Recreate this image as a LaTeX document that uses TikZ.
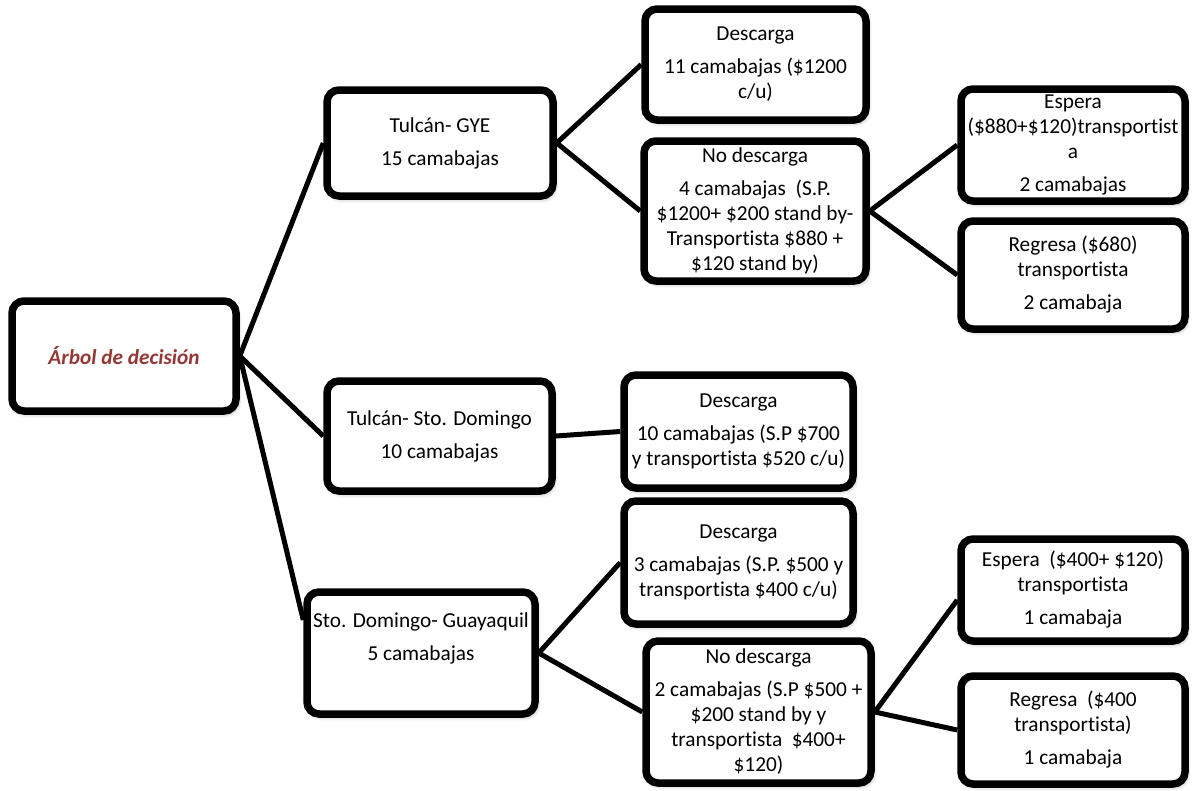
\documentclass[tikz,border=0pt]{standalone}
\usepackage{fontspec}
\setmainfont{Carlito}[Ligatures={NoCommon}]
\usetikzlibrary{shadows.blur,backgrounds,calc}
\definecolor{rootred}{RGB}{149,55,53}
\tikzset{
  txt/.style={align=center, inner sep=0pt, font=\fontsize{21.3}{25}\selectfont},
  box/.style={txt, draw=black, line width=7.5pt, rounded corners=12pt, fill=white,
    blur shadow={shadow xshift=2pt, shadow yshift=-3pt, shadow blur radius=4pt, shadow opacity=35}},
  sz/.style 2 args={minimum width=#1pt, minimum height=#2pt},
  link/.style={line width=5pt, draw=black},
}
\begin{document}
\begin{tikzpicture}[x=1pt, y=-1pt]
\useasboundingbox (0,0) rectangle (1196,790);

% root
\node[box, sz={224}{110}, font=\fontsize{21.3}{25}\selectfont\bfseries\itshape, text=rootred]
  (root) at (124,356) {Árbol de decisión};

% first level: routes
\node[box, sz={226}{106}] (gye) at (440,143) {Tulcán- GYE\\[8pt]15 camabajas};
\node[box, sz={225}{110}] (sto) at (439.5,436) {Tulcán- Sto. Domingo\\[8pt]10 camabajas};
\node[box, sz={228}{122}] (sd) at (421,653) {};
\node[txt] (sdtext) at (421,638) {Sto. Domingo- Guayaquil\\[8pt]5 camabajas};

% second level
\node[box, sz={221}{111}] (d1) at (755.5,64.5) {Descarga\\[8pt]11 camabajas (\$1200\\c/u)};
\node[box, sz={222}{140}] (nd1) at (755,211) {No descarga\\[8pt]4 camabajas~~(S.P.\\\$1200+ \$200 stand by-\\Transportista \$880 +\\\$120 stand by)};
\node[box, sz={229}{113}] (d2) at (738.5,431.5) {Descarga\\[8pt]10 camabajas (S.P \$700\\y transportista \$520 c/u)};
\node[box, sz={229}{123}] (d3) at (738.5,562.5) {Descarga\\[8pt]3 camabajas (S.P. \$500 y\\transportista \$400 c/u)};
\node[box, sz={225}{142}] (nd3) at (758.5,712) {No descarga\\[8pt]2 camabajas (S.P \$500 +\\\$200 stand by y\\transportista~~\$400+\\\$120)};

% third level
\node[box, sz={224}{112}] (esp1) at (1073,145) {Espera\\(\$880+\$120)transportist\\a\\[8pt]2 camabajas};
\node[box, sz={224}{108}] (reg1) at (1073,275) {Regresa (\$680)\\transportista\\[8pt]2 camabaja};
\node[box, sz={224}{102}] (esp3) at (1073,590) {Espera~~(\$400+ \$120)\\transportista\\[8pt]1 camabaja};
\node[box, sz={224}{108}] (reg3) at (1073,730) {Regresa~~(\$400\\transportista)\\[8pt]1 camabaja};

% branches
\begin{scope}[on background layer]
  \draw[link] (root.east) -- (gye.west);
  \draw[link] (root.east) -- (sto.west);
  \draw[link] (root.east) -- ([yshift=33pt]sd.west);
  \draw[link] (gye.east) -- (d1.west);
  \draw[link] (gye.east) -- (nd1.west);
  \draw[link] (nd1.east) -- (esp1.west);
  \draw[link] (nd1.east) -- (reg1.west);
  \draw[link] (sto.east) -- (d2.west);
  \draw[link] (sd.east) -- (d3.west);
  \draw[link] (sd.east) -- (nd3.west);
  \draw[link] (nd3.east) -- ([yshift=-10pt]esp3.west);
  \draw[link] (nd3.east) -- (reg3.west);
\end{scope}
\end{tikzpicture}
\end{document}
